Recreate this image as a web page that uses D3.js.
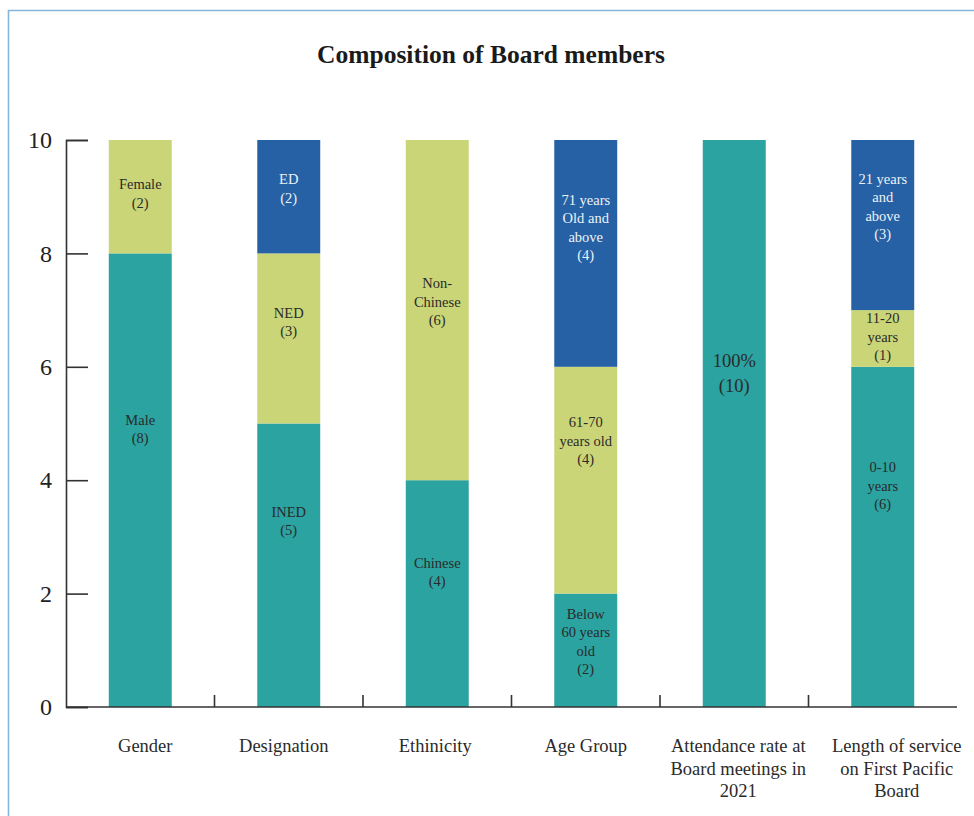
<!DOCTYPE html>
<html>
<head>
<meta charset="utf-8">
<script src="https://cdn.jsdelivr.net/npm/d3@7"></script>
<style>
  body { margin: 0; background: #fff; }
  svg { display: block; font-family: "Liberation Serif", "Times New Roman", serif; }
</style>
</head>
<body>
<svg width="974" height="816"></svg>
<script>
var width = 974;
var height = 816;

// categories along the x axis
var categories = ['Gender', 'Designation', 'Ethinicity', 'Age Group', 'Attendance', 'Length'];
var categoryLines = [
    ['Gender'],
    ['Designation'],
    ['Ethinicity'],
    ['Age Group'],
    ['Attendance rate at', 'Board meetings in', '2021'],
    ['Length of service', 'on First Pacific', 'Board']
];

// stacked segments, bottom to top within each category
var segCategory = [0, 0, 1, 1, 1, 2, 2, 3, 3, 3, 4, 5, 5, 5];
var segTier     = [0, 1, 0, 1, 2, 0, 1, 0, 1, 2, 0, 0, 1, 2];
var segValue    = [8, 2, 5, 3, 2, 4, 6, 2, 4, 4, 10, 6, 1, 3];
var segText = [
    ['Male', '(8)'], ['Female', '(2)'],
    ['INED', '(5)'], ['NED', '(3)'], ['ED', '(2)'],
    ['Chinese', '(4)'], ['Non-', 'Chinese', '(6)'],
    ['Below', '60 years', 'old', '(2)'], ['61-70', 'years old', '(4)'], ['71 years', 'Old and', 'above', '(4)'],
    ['100%', '(10)'],
    ['0-10', 'years', '(6)'], ['11-20', 'years', '(1)'], ['21 years', 'and', 'above', '(3)']
];
// where each label sits, in axis units
var segLabelAt = [4.9, 9.05, 3.28, 6.79, 9.14, 2.38, 7.14, 1.15, 4.69, 8.45, 5.89, 3.9, 6.53, 8.82];

var yTicks = [0, 2, 4, 6, 8, 10];
var tierColors = ['#2aa3a1', '#cad577', '#2561a4'];

// category labels are not quite centred under their bars in the original
var labelNudge = [5, -5, -2, 0, 4, 14];

var svg = d3.select('svg');

// frame line (top and left only)
svg.append('path')
    .attr('d', 'M' + (width + 5) + ',10.5H8.5V' + (height + 5))
    .attr('fill', 'none')
    .attr('stroke', '#86b5dc')
    .attr('stroke-width', 1.6);

svg.append('text')
    .attr('x', 491)
    .attr('y', 63)
    .attr('text-anchor', 'middle')
    .attr('font-size', 25.5)
    .attr('font-weight', 'bold')
    .attr('fill', '#1a1a1a')
    .text('Composition of Board members');

var x = d3.scaleBand()
    .domain(categories)
    .range([66, 957])
    .paddingInner(0.576)
    .paddingOuter(0.288);

var y = d3.scaleLinear()
    .domain([0, 10])
    .range([707, 140]);

// build stack table from the segment arrays
var table = categories.map(function(c, i) {
    var row = { cat: c, 0: 0, 1: 0, 2: 0 };
    segCategory.forEach(function(ci, j) {
        if (ci === i) row[segTier[j]] = segValue[j];
    });
    return row;
});
var series = d3.stack().keys([0, 1, 2])(table);

var g = svg.append('g');
series.forEach(function(s) {
    g.selectAll('.bar-' + s.key)
        .data(s.filter(d => d[1] > d[0]))
        .enter()
        .append('rect')
        .attr('x', d => x(d.data.cat))
        .attr('width', x.bandwidth())
        .attr('y', d => y(d[1]))
        .attr('height', d => y(d[0]) - y(d[1]))
        .attr('fill', tierColors[s.key]);
});

// y axis, ticks pointing inward
var yAxis = svg.append('g')
    .attr('transform', 'translate(66,0)')
    .call(d3.axisLeft(y).tickValues(yTicks).tickSize(-22).tickPadding(14));
yAxis.attr('font-family', null);
yAxis.select('.domain').attr('stroke', '#333').attr('stroke-width', 1.6);
yAxis.selectAll('.tick line').attr('stroke', '#333').attr('stroke-width', 1.6);
yAxis.selectAll('.tick text')
    .attr('font-size', 24)
    .attr('font-family', '"Liberation Serif", serif')
    .attr('fill', '#222');

// x axis baseline with separators between categories
var step = x.step();
svg.append('line')
    .attr('x1', 66).attr('x2', 957)
    .attr('y1', y(0)).attr('y2', y(0))
    .attr('stroke', '#333').attr('stroke-width', 1.6);
svg.selectAll('.sep')
    .data(categories.slice(1))
    .enter()
    .append('line')
    .attr('x1', d => x(d) - x.paddingOuter() * step)
    .attr('x2', d => x(d) - x.paddingOuter() * step)
    .attr('y1', y(0))
    .attr('y2', y(0) - 12)
    .attr('stroke', '#333').attr('stroke-width', 1.6);

// category labels
svg.selectAll('.cat')
    .data(categories)
    .enter()
    .append('text')
    .attr('text-anchor', 'middle')
    .attr('font-size', 18.5)
    .attr('fill', '#2a2a2a')
    .each(function(d, i) {
        var t = d3.select(this);
        categoryLines[i].forEach(function(line, k) {
            t.append('tspan')
                .attr('x', x(d) + x.bandwidth() / 2 + labelNudge[i])
                .attr('y', 752 + k * 22.5)
                .text(line);
        });
    });

// segment labels
segText.forEach(function(lines, j) {
    var big = segValue[j] === 10;
    var fs = big ? 18.5 : 14.5;
    var lh = big ? 25 : 18.5;
    var cx = x(categories[segCategory[j]]) + x.bandwidth() / 2;
    var cy = y(segLabelAt[j]);
    var t = svg.append('text')
        .attr('text-anchor', 'middle')
        .attr('font-size', fs)
        .attr('fill', segTier[j] === 2 ? '#eef2f8' : '#2a2a2a');
    lines.forEach(function(line, k) {
        t.append('tspan')
            .attr('x', cx)
            .attr('y', cy + (k - (lines.length - 1) / 2) * lh + fs * 0.33)
            .text(line);
    });
});
</script>
</body>
</html>
